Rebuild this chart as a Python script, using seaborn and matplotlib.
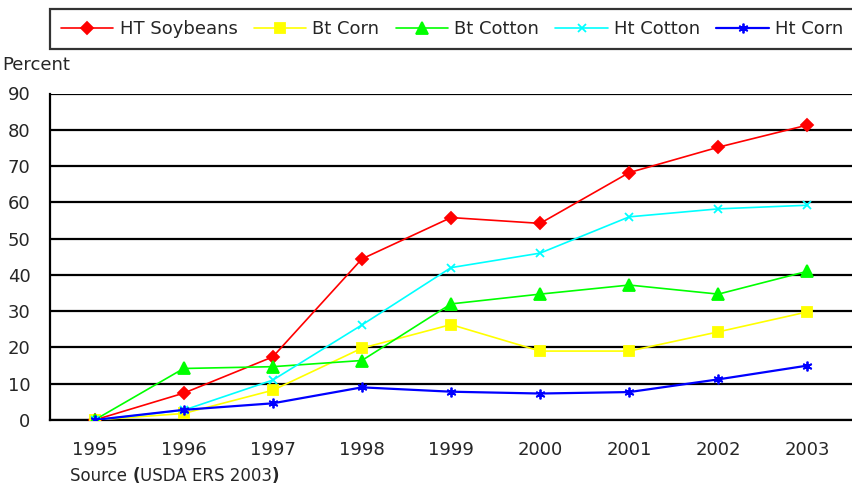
"""
GM crop adoption chart (USDA ERS 2003) re-drawn with seaborn
"""
import pandas as pd
import matplotlib
matplotlib.use('Agg')
import matplotlib.pyplot as plt
import seaborn as sns
from matplotlib.ticker import FixedLocator, NullFormatter

years = ['1995', '1996', '1997', '1998', '1999', '2000', '2001', '2002', '2003']
ht_soybeans = [0, 7.4, 17.4, 44.4, 55.8, 54.2, 68.2, 75.2, 81.3]
bt_corn = [0, 1.8, 8.2, 19.8, 26.3, 19.0, 19.0, 24.3, 29.8]
bt_cotton = [0, 14.2, 14.7, 16.4, 32.0, 34.7, 37.2, 34.7, 41.0]
ht_cotton = [0, 2.7, 11.0, 26.2, 42.0, 46.0, 56.0, 58.2, 59.2]
ht_corn = [0, 2.8, 4.6, 9.0, 7.8, 7.3, 7.7, 11.2, 15.0]

names = ['HT Soybeans', 'Bt Corn', 'Bt Cotton', 'Ht Cotton', 'Ht Corn']
series = [ht_soybeans, bt_corn, bt_cotton, ht_cotton, ht_corn]
colors = ['#FF0000', '#FFFF00', '#00FF00', '#00FFFF', '#0000FF']
markers = ['D', 's', '^', 'x', (6, 2, 0)]
msizes = [6, 7, 8, 6, 7]
lwidths = [1.2, 1.2, 1.2, 1.2, 1.6]

rows = []
for name, vals in zip(names, series):
    for i, v in enumerate(vals):
        rows.append({'pos': i, 'value': v, 'series': name})
df = pd.DataFrame(rows)

sns.set_style('white')
plt.rcParams['font.family'] = ['DejaVu Sans']

fig = plt.figure(figsize=(8.52, 4.88), dpi=100)
ax = fig.add_axes([50 / 852, 68 / 488, 1 - 50 / 852, 326.5 / 488])

# seaborn will not mix filled and line markers, so swap them in afterwards
sns.lineplot(data=df, x='pos', y='value', hue='series',
             hue_order=names, palette=dict(zip(names, colors)),
             marker='o', legend=False, ax=ax)

for line, c, m, ms, lw in zip(ax.lines, colors, markers, msizes, lwidths):
    line.set_marker(m)
    line.set_markeredgecolor(c)
    line.set_markerfacecolor(c)
    line.set_markersize(ms)
    line.set_linewidth(lw)
    line.set_markeredgewidth(1.3)
    line.set_zorder(3)

ax.set_xlim(-0.5, len(years) - 0.5)
ax.set_ylim(0, 90)
ax.set_yticks(range(0, 91, 10))
ax.yaxis.grid(True, color='black', linewidth=1.6)
ax.set_axisbelow(True)

# tick marks between categories, labels at centres
ax.xaxis.set_major_locator(FixedLocator([i + 0.5 for i in range(-1, len(years))]))
ax.xaxis.set_major_formatter(NullFormatter())
ax.xaxis.set_minor_locator(FixedLocator(range(len(years))))
ax.set_xticklabels(years, minor=True)
ax.tick_params(axis='x', which='major', length=5, width=1.5, color='black', direction='out')
ax.tick_params(axis='x', which='minor', length=0, pad=15, labelsize=13)
ax.tick_params(axis='y', length=7, width=1.5, color='black', direction='out',
               pad=7, labelsize=13)
ax.set_xlabel('')
ax.set_ylabel('')

for side in ['top', 'right']:
    ax.spines[side].set_visible(False)
for side in ['left', 'bottom']:
    ax.spines[side].set_color('black')
    ax.spines[side].set_linewidth(1.6)

leg = fig.legend(ax.lines, names, loc='upper left', ncol=5,
                 bbox_to_anchor=(50 / 852, 1 - 9 / 488), fontsize=13,
                 frameon=True, fancybox=False, edgecolor='black',
                 handlelength=2.9, handletextpad=0.35, columnspacing=0.9,
                 borderpad=0.6, borderaxespad=0)
leg.get_frame().set_linewidth(1.6)

fig.text(2 / 852, 1 - 65 / 488, 'Percent', fontsize=13, va='center', ha='left')

t1 = fig.text(70 / 852, 1 - 476 / 488, 'Source ', fontsize=12, va='center')
t2 = ax.annotate('(', xy=(1, 0), xycoords=t1, va='bottom', fontsize=12, fontweight='bold')
t3 = ax.annotate('USDA ERS 2003', xy=(1, 0), xycoords=t2, va='bottom', fontsize=12)
ax.annotate(')', xy=(1, 0), xycoords=t3, va='bottom', fontsize=12, fontweight='bold')

fig.savefig('out.png', dpi=100)
plt.close(fig)
